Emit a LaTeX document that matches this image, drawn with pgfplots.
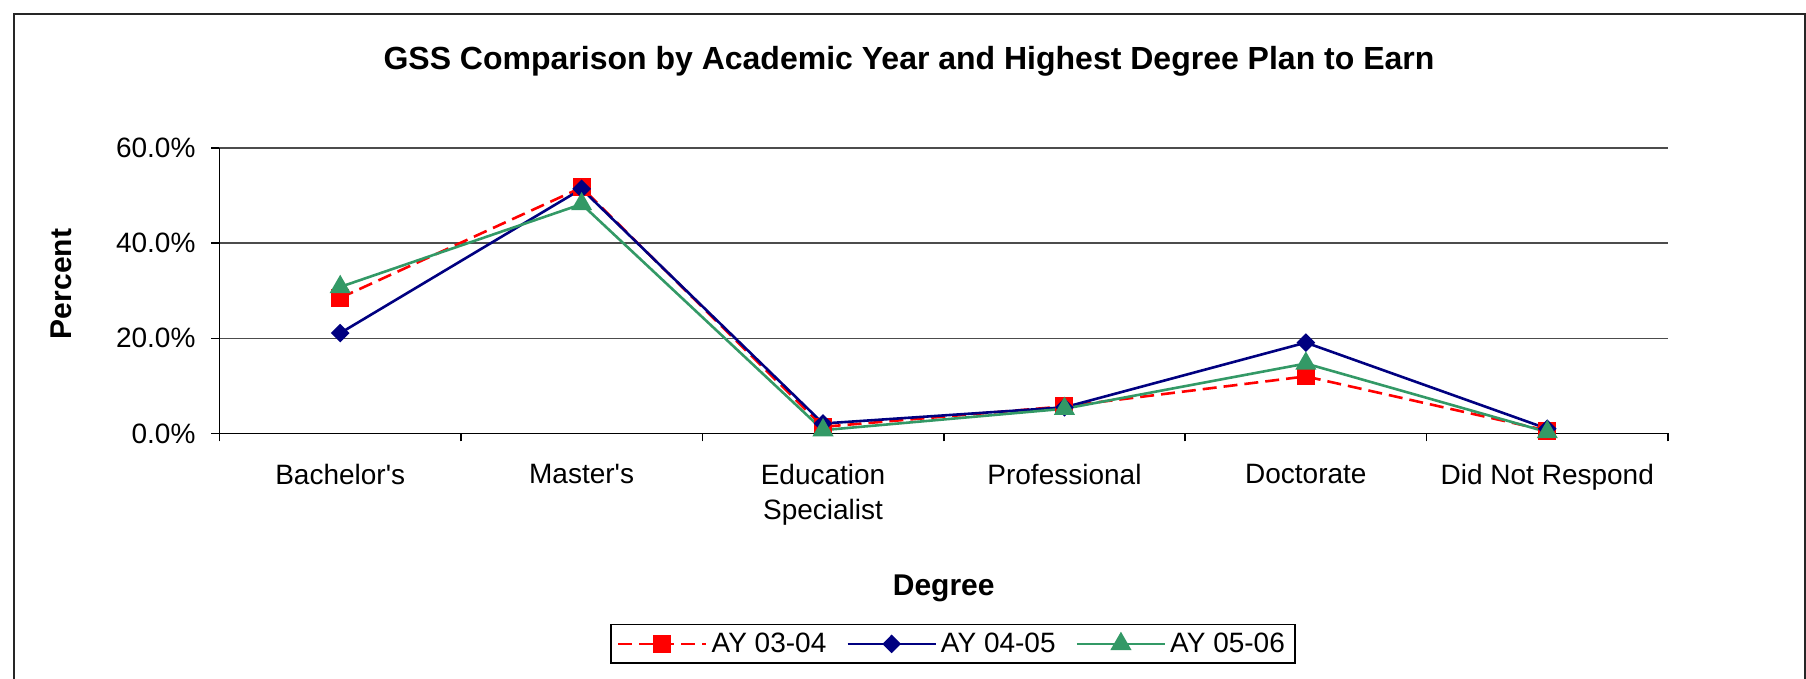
\documentclass[border=0pt]{standalone}
\usepackage{fontspec}
\setmainfont{Liberation Sans}
\usepackage{pgfplots}
\pgfplotsset{compat=1.18}
\definecolor{ayred}{RGB}{255,0,0}
\definecolor{ayblue}{RGB}{0,0,128}
\definecolor{aygreen}{RGB}{51,153,102}
\begin{document}
\begin{tikzpicture}
\useasboundingbox (0pt,0pt) rectangle (903pt,339.5pt);
\draw[line width=1pt,black!85] (6.75pt,-5pt) -- (6.75pt,332.5pt) -- (902.25pt,332.5pt) -- (902.25pt,-5pt);
\node[anchor=base,font=\fontsize{16}{19}\selectfont\bfseries] at (454.5pt,304.85pt) {GSS Comparison by Academic Year and Highest Degree Plan to Earn};
\node[anchor=base,font=\fontsize{15}{18}\selectfont\bfseries] at (471.85pt,41.5pt) {Degree};
\node[anchor=base,rotate=90,font=\fontsize{15}{18}\selectfont\bfseries] at (35.5pt,197.5pt) {Percent};
\begin{axis}[
  at={(109.75pt,122.75pt)}, anchor=south west,
  scale only axis, width=724.25pt, height=142.75pt,
  xmin=0, xmax=6, ymin=0, ymax=60,
  axis x line=bottom, axis y line=left,
  axis line style={-, black, line width=0.8pt},
  /pgf/number format/assume math mode=true,
  ytick={0,20,40,60},
  yticklabel={\pgfmathprintnumber[fixed,fixed zerofill,precision=1]{\tick}\%},
  ymajorgrids, grid style={black!70, line width=0.8pt},
  xtick={0.5,1.5,2.5,3.5,4.5,5.5},
  xticklabels={Bachelor\textquotesingle s, Master\textquotesingle s, Education\\Specialist, Professional, Doctorate, Did Not Respond},
  minor xtick={0,1,2,3,4,5,6},
  major x tick style={draw=none},
  tick align=outside, major tick length=4pt, minor tick length=4pt,
  tick style={black, line width=0.8pt},
  xticklabel style={align=center, anchor=north, yshift=-8pt, font=\fontsize{14}{17.5}\selectfont},
  yticklabel style={anchor=east, xshift=-4.5pt, font=\fontsize{14}{17}\selectfont},
  clip=false,
  legend columns=3,
  legend style={at={(0.5064,-0.737)}, anchor=center, draw=black, line width=0.8pt,
    font=\fontsize{14}{17}\selectfont, inner xsep=3pt, inner ysep=2pt,
    /tikz/every even column/.append style={column sep=8pt}},
  legend image code/.code={\draw[mark repeat=2,mark phase=2,#1] plot coordinates {(0pt,0pt) (22pt,0pt) (44pt,0pt)};},
]
\addplot[color=ayred, line width=1.3pt, dash pattern=on 7pt off 3.5pt, mark=square*, mark size=3.85pt, mark options={solid}]
  coordinates {(0.5,28.5) (1.5,51.7) (2.5,1.4) (3.5,5.7) (4.5,12.0) (5.5,0.6)};
\addlegendentry{AY 03-04}
\addplot[color=ayblue, line width=1.3pt, mark=diamond*, mark size=3.75pt, mark options={solid,xscale=1.33}]
  coordinates {(0.5,21.1) (1.5,51.4) (2.5,2.1) (3.5,5.5) (4.5,19.1) (5.5,1.0)};
\addlegendentry{AY 04-05}
\addplot[color=aygreen, line width=1.3pt, mark=triangle*, mark size=4.8pt, mark options={solid}]
  coordinates {(0.5,30.8) (1.5,48.2) (2.5,0.7) (3.5,5.2) (4.5,14.7) (5.5,0.3)};
\addlegendentry{AY 05-06}
\end{axis}
\end{tikzpicture}
\end{document}
